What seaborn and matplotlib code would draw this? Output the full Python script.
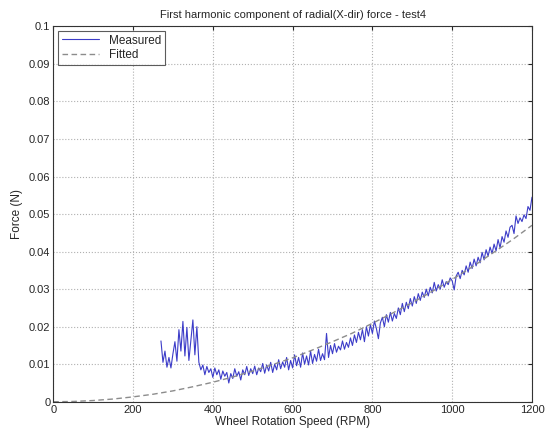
import numpy as np
import pandas as pd
import matplotlib
matplotlib.use('Agg')
import matplotlib.pyplot as plt
import seaborn as sns

# Fitted curve, every 50 RPM
fitted_rpm = [0, 50, 100, 150, 200, 250, 300, 350, 400, 450, 500, 550, 600,
              650, 700, 750, 800, 850, 900, 950, 1000, 1050, 1100, 1150, 1200]
fitted_force = [0.0, 0.00008, 0.00033, 0.00073, 0.0013, 0.0020, 0.0029, 0.0040,
                0.0052, 0.0066, 0.0082, 0.0099, 0.0117, 0.0138, 0.0160, 0.0183,
                0.0209, 0.0236, 0.0264, 0.0294, 0.0326, 0.0359, 0.0395, 0.0431, 0.0470]

# Measured data (approx. every 5 RPM)
measured_rpm = [
    270, 275, 280, 285, 290, 295, 300, 305, 310, 315, 320, 325, 330, 335, 340, 345, 350, 355, 360,
    365, 370, 375, 380, 385, 390, 395, 400, 405, 410, 415, 420, 425, 430, 435, 440, 445, 450,
    455, 460, 465, 470, 475, 480, 485, 490, 495, 500, 505, 510, 515, 520, 525, 530, 535, 540,
    545, 550, 555, 560, 565, 570, 575, 580, 585, 590, 595, 600, 605, 610, 615, 620, 625, 630,
    635, 640, 645, 650, 655, 660, 665, 670, 675, 680, 685, 690, 695, 700, 705, 710, 715, 720,
    725, 730, 735, 740, 745, 750, 755, 760, 765, 770, 775, 780, 785, 790, 795, 800, 805, 810,
    815, 820, 825, 830, 835, 840, 845, 850, 855, 860, 865, 870, 875, 880, 885, 890, 895, 900,
    905, 910, 915, 920, 925, 930, 935, 940, 945, 950, 955, 960, 965, 970, 975, 980, 985, 990,
    995, 1000, 1005, 1010, 1015, 1020, 1025, 1030, 1035, 1040, 1045, 1050, 1055, 1060, 1065,
    1070, 1075, 1080, 1085, 1090, 1095, 1100, 1105, 1110, 1115, 1120, 1125, 1130, 1135, 1140,
    1145, 1150, 1155, 1160, 1165, 1170, 1175, 1180, 1185, 1190, 1195, 1200,
]
measured_force = [
    0.0162, 0.0105, 0.0135, 0.0092, 0.0118, 0.0090, 0.0128, 0.0160, 0.0108, 0.0192, 0.0135,
    0.0214, 0.0122, 0.0198, 0.0110, 0.0165, 0.0218, 0.0125, 0.0200,
    0.0105, 0.0085, 0.0098, 0.0072, 0.0094, 0.0078, 0.0088, 0.0065, 0.0090, 0.0072, 0.0085,
    0.0060, 0.0082, 0.0068, 0.0078, 0.0050, 0.0075, 0.0062,
    0.0088, 0.0068, 0.0080, 0.0058, 0.0085, 0.0072, 0.0094, 0.0070, 0.0088, 0.0075, 0.0095,
    0.0072, 0.0090, 0.0080, 0.0102, 0.0076, 0.0098, 0.0082,
    0.0105, 0.0078, 0.0100, 0.0085, 0.0112, 0.0088, 0.0106, 0.0092, 0.0118, 0.0085, 0.0110,
    0.0090, 0.0125, 0.0096, 0.0118, 0.0092, 0.0130, 0.0100,
    0.0122, 0.0098, 0.0135, 0.0102, 0.0126, 0.0108, 0.0140, 0.0110, 0.0128, 0.0112, 0.0182,
    0.0118, 0.0150, 0.0128, 0.0155, 0.0132, 0.0148, 0.0138,
    0.0162, 0.0140, 0.0158, 0.0145, 0.0170, 0.0150, 0.0178, 0.0158, 0.0185, 0.0165, 0.0192,
    0.0160, 0.0200, 0.0175, 0.0205, 0.0182, 0.0215, 0.0195,
    0.0168, 0.0210, 0.0225, 0.0200, 0.0232, 0.0212, 0.0238, 0.0215, 0.0235, 0.0222, 0.0250,
    0.0232, 0.0262, 0.0240, 0.0265, 0.0248, 0.0275, 0.0255,
    0.0280, 0.0262, 0.0288, 0.0270, 0.0292, 0.0278, 0.0300, 0.0282, 0.0305, 0.0290, 0.0318,
    0.0295, 0.0312, 0.0300, 0.0325, 0.0305, 0.0320, 0.0312,
    0.0330, 0.0322, 0.0298, 0.0335, 0.0345, 0.0328, 0.0350, 0.0338, 0.0362, 0.0345, 0.0372,
    0.0355, 0.0380, 0.0362, 0.0385,
    0.0370, 0.0398, 0.0378, 0.0405, 0.0388, 0.0412, 0.0395, 0.0420, 0.0402, 0.0432, 0.0410,
    0.0440, 0.0425, 0.0455, 0.0438,
    0.0465, 0.0470, 0.0448, 0.0495, 0.0475, 0.0490, 0.0480, 0.0498, 0.0488, 0.0520, 0.0510, 0.0545,
]

x_ticks = [0, 200, 400, 600, 800, 1000, 1200]
y_ticks = [0, 0.01, 0.02, 0.03, 0.04, 0.05, 0.06, 0.07, 0.08, 0.09, 0.1]
y_tick_labels = ['0', '0.01', '0.02', '0.03', '0.04', '0.05', '0.06', '0.07', '0.08', '0.09', '0.1']

sns.set_style('white')
plt.rcParams['font.family'] = ['Liberation Sans', 'DejaVu Sans']

measured = pd.DataFrame({'rpm': measured_rpm, 'force': measured_force})
fitted = pd.DataFrame({'rpm': fitted_rpm, 'force': fitted_force})

fig = plt.figure(figsize=(5.49, 4.32), dpi=100)
ax = fig.add_axes([0.097, 0.07, 0.872, 0.869])

sns.lineplot(data=measured, x='rpm', y='force', ax=ax, color='#3c3cc8',
             linewidth=0.8, label='Measured')
sns.lineplot(data=fitted, x='rpm', y='force', ax=ax, color='#8c8c8c',
             linewidth=1.0, linestyle=(0, (4, 2.5)), label='Fitted')

ax.set_xlim(0, 1200)
ax.set_ylim(0, 0.1)
ax.set_xticks(x_ticks)
ax.set_yticks(y_ticks)
ax.set_yticklabels(y_tick_labels)
ax.grid(True, linestyle=':', color='#b0b0b0', linewidth=0.8)
ax.tick_params(direction='in', top=True, right=True, labelsize=8, length=3, pad=2)
for sp in ax.spines.values():
    sp.set_color('#333333')
    sp.set_linewidth(0.8)

ax.set_title('First harmonic component of radial(X-dir) force - test4', fontsize=8, pad=6)
ax.set_xlabel('Wheel Rotation Speed (RPM)', fontsize=8.5, labelpad=1)
ax.set_ylabel('Force (N)', fontsize=8.5, labelpad=4)

leg = ax.legend(loc='upper left', fontsize=8.5, frameon=True, fancybox=False,
                borderaxespad=0.4, handlelength=3.2, borderpad=0.3, labelspacing=0.2)
leg.get_frame().set_edgecolor('#333333')
leg.get_frame().set_linewidth(0.8)

fig.savefig('out.png', dpi=100)
